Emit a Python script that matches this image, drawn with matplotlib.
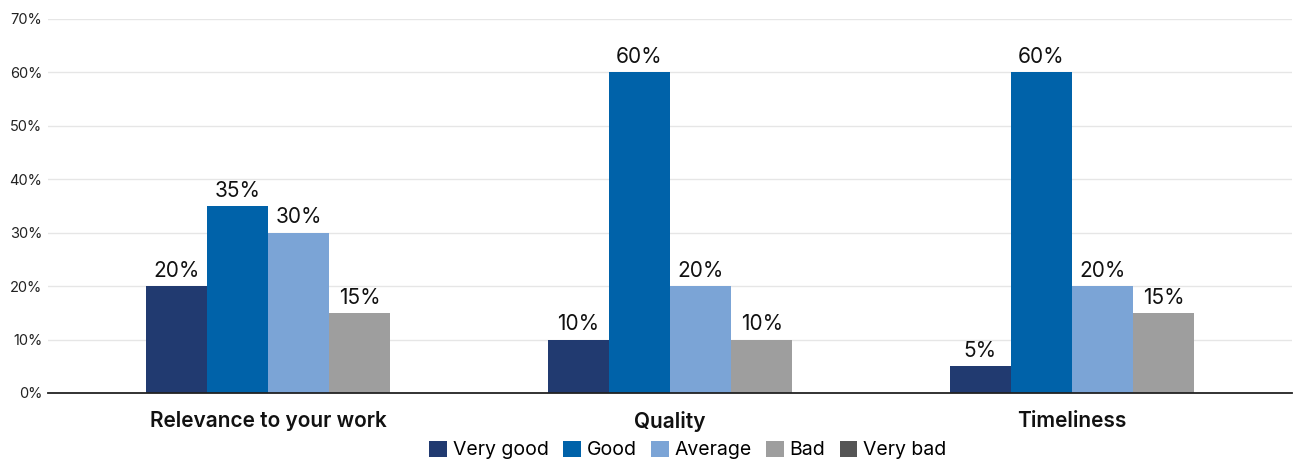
import numpy as np
import matplotlib.pyplot as plt
from matplotlib.patches import Patch

categories = ["Relevance to your work", "Quality", "Timeliness"]
series = ["Very good", "Good", "Average", "Bad", "Very bad"]
very_good = [20, 10, 5]
good = [35, 60, 60]
average = [30, 20, 20]
bad = [15, 10, 15]
very_bad = [None, None, None]

COLORS = ["#213A70", "#0062A9", "#7BA4D6", "#9E9E9E", "#555555"]

plt.rcParams.update({"font.family": ["Inter", "DejaVu Sans"]})

fig = plt.figure(figsize=(13, 4.62), dpi=100)
ax = fig.add_axes([48 / 1300, 1 - 393 / 462, 1244 / 1300, 374 / 462])

x = np.arange(len(categories))
width = 0.152
data = [very_good, good, average, bad, very_bad]
# only series with values get bars; the group is centred on those
drawn = [i for i, vals in enumerate(data) if any(v is not None for v in vals)]
n = len(drawn)
for k, i in enumerate(drawn):
    offs = (k - (n - 1) / 2) * width
    vals = np.array(data[i], dtype=float)
    ax.bar(x + offs, vals, width, color=COLORS[i], zorder=3)
    for xi, v in zip(x + offs, vals):
        ax.text(xi, v + 1.0, f"{v:.0f}%", ha="center", va="bottom",
                fontsize=15, color="#111111")

ax.set_ylim(0, 70)
ax.set_xlim(-0.547, 2.547)
ax.set_yticks(range(0, 71, 10))
ax.set_yticklabels([f"{t}%" for t in range(0, 71, 10)], fontsize=10.5, color="#222222")
ax.set_xticks(x)
ax.set_xticklabels(categories, fontsize=15, fontweight="semibold", color="#111111")
ax.tick_params(axis="both", length=0)
ax.tick_params(axis="x", pad=13)
ax.tick_params(axis="y", pad=4)
ax.yaxis.grid(True, color="#E6E6E6", linewidth=1, zorder=0)
for s in ["top", "right", "left"]:
    ax.spines[s].set_visible(False)
ax.spines["bottom"].set_color("#222222")
ax.spines["bottom"].set_linewidth(1.3)
ax.spines["bottom"].set_zorder(4)

handles = [Patch(facecolor=c, label=s) for c, s in zip(COLORS, series)]
fig.legend(handles=handles, loc="center", bbox_to_anchor=(688 / 1300, 1 - 450 / 462),
           ncol=5, frameon=False, fontsize=14, handlelength=0.9, handleheight=0.9,
           handletextpad=0.3, columnspacing=0.75)

fig.savefig("out.png", dpi=100)
